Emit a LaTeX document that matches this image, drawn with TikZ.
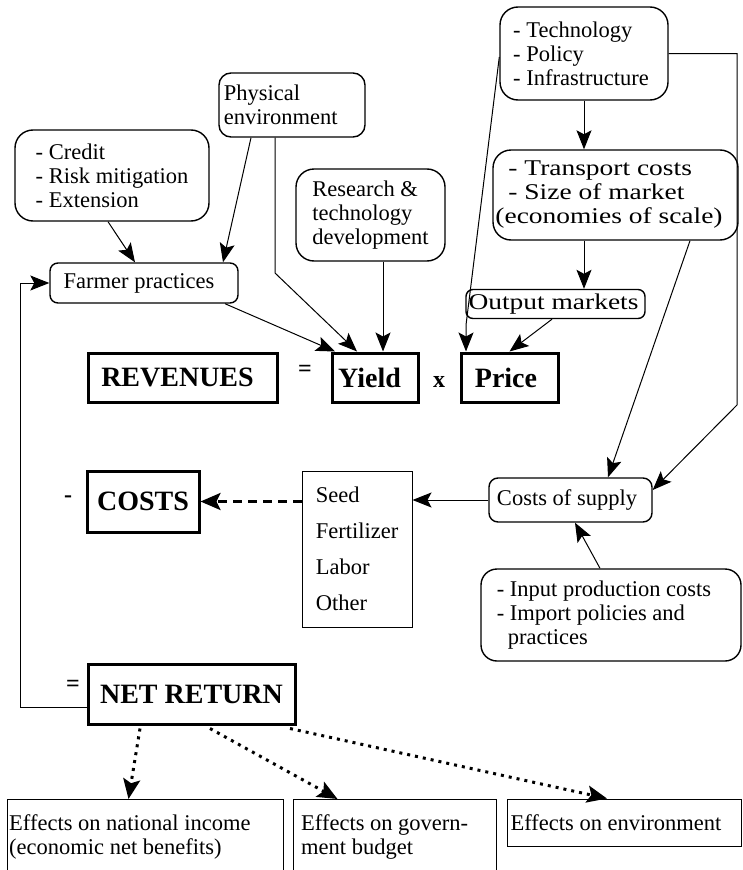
\documentclass[tikz,border=0pt]{standalone}
\usepackage{fontspec}
\setmainfont{Liberation Serif}
\newfontfamily\widefont{Liberation Serif}[FakeStretch=1.22]
\usetikzlibrary{arrows.meta,calc}
\begin{document}
\begin{tikzpicture}[x=1pt,y=-1pt,
  every node/.style={font=\fontsize{22.5}{24}\selectfont, inner sep=0pt},
  rbox/.style={draw, line width=1.4pt, rounded corners=#1, align=left},
  rbox/.default=16pt,
  bbox/.style={draw, line width=3pt, font=\fontsize{28}{30}\selectfont\bfseries},
  pbox/.style={draw, line width=1pt, align=left},
  sym/.style={font=\fontsize{24}{24}\selectfont\bfseries},
  conn/.style={line width=1pt, -{Stealth[length=19pt,width=15pt,inset=4pt]}},
  dasharr/.style={line width=2.8pt, dash pattern=on 9pt off 6pt, -{Stealth[length=20pt,width=17pt,inset=4pt]}},
  dotarr/.style={line width=3pt, dash pattern=on 3pt off 5pt, -{Stealth[length=20pt,width=17pt,inset=4pt]}}
]
\useasboundingbox (0,0) rectangle (742,870);
\clip (0,0) rectangle (742,870);

% top-left boxes
\node[rbox=18pt, minimum width=194pt, minimum height=91pt] (credit) at (112,175.5) {- Credit\\- Risk mitigation\\- Extension};
\node[rbox=12pt, minimum width=146pt, minimum height=64pt] (phys) at (292,105) {Physical\hspace*{60pt}\\environment\hspace*{14pt}};
\node[rbox=18pt, minimum width=149pt, minimum height=92pt] (research) at (370.5,215) {Research \&\\technology\\development};
\node[rbox=8pt, minimum width=188pt, minimum height=40pt] (farmer) at (144,283) {Farmer practices\hspace*{10pt}};

% top-right boxes
\node[rbox=18pt, minimum width=168pt, minimum height=93pt] (tech) at (584,53.5) {- Technology\\- Policy\\- Infrastructure\hspace*{6pt}};
\node[rbox=18pt, minimum width=245pt, minimum height=90pt, font=\widefont\fontsize{22.5}{24}\selectfont] (transport) at (615.5,195) {- Transport costs\\- Size of market\\\hspace*{-13pt}(economies of scale)};
\node[rbox=7pt, minimum width=179pt, minimum height=29pt, font=\widefont\fontsize{22.5}{24}\selectfont] (output) at (555.5,304) {Output markets\hspace*{4pt}};

% revenue row
\node[bbox, minimum width=189pt, minimum height=49pt] (rev) at (182.5,377.5) {REVENUES\hspace*{10pt}};
\node[sym] (eq1) at (305,371) {=};
\node[bbox, minimum width=86pt, minimum height=49pt] (yield) at (375,377.5) {Yield\hspace*{11pt}};
\node[sym] (times) at (439,382) {x};
\node[bbox, minimum width=97pt, minimum height=49pt] (price) at (509.5,377.5) {Price\hspace*{7pt}};

% costs row
\node[sym] (minus) at (68,499) {-};
\node[bbox, minimum width=112pt, minimum height=61pt] (costs) at (143,501.5) {COSTS};
\node[pbox, minimum width=110pt, minimum height=156pt] (seed) at (357,549) {Seed\\[12pt]Fertilizer\\[12pt]Labor\\[12pt]Other};
\node[rbox=9pt, minimum width=163pt, minimum height=44pt] (supply) at (570.5,500) {Costs of supply\hspace*{7pt}};
\node[rbox=16pt, minimum width=260pt, minimum height=92pt] (input) at (611,615) {- Input production costs\hspace*{14pt}\\- Import policies and\\\hspace*{11pt}practices};

% net return
\node[sym] (eq2) at (73,686) {=};
\node[bbox, minimum width=207pt, minimum height=60pt] (net) at (191.5,694) {NET RETURN};

% effects
\node[pbox, minimum width=276pt, minimum height=76pt, anchor=north west] (eff1) at (7,799) {};
\node[anchor=north west, align=left] (eff1t) at (9,814) {Effects on national income\\(economic net benefits)};
\node[pbox, minimum width=203pt, minimum height=76pt, anchor=north west] (eff2) at (293,799) {};
\node[anchor=north west, align=left] (eff2t) at (301,814) {Effects on govern-\\ment budget};
\node[pbox, minimum width=234pt, minimum height=47pt] (eff3) at (624,822.5) {Effects on environment\hspace*{16pt}};

% connectors
\draw[conn] ([xshift=-4pt]credit.south) -- ([xshift=-9pt]farmer.north);
\draw[conn] ([xshift=-41pt]phys.south) -- ([xshift=79pt]farmer.north);
\coordinate (pb) at (275,273);
\draw[conn] ([xshift=-17pt]phys.south) -- (pb) -- ([xshift=-18pt]yield.north);
\draw[conn] ([xshift=81pt]farmer.south) -- ([xshift=-40pt]yield.north);
\draw[conn] ([xshift=8pt]research.south -| yield.north) -- ([xshift=8pt]yield.north);
\coordinate (tb) at (466,325);
\draw[conn] ([yshift=-3.5pt]tech.west) -- (tb) -- (tb |- price.north);
\draw[conn] (tech.south) -- (tech.south |- transport.north);
\draw[conn] (tech.south |- transport.south) -- (tech.south |- output.north);
\draw[conn] ([xshift=-3.5pt]output.south) -- (price.north);
\draw[conn] ([xshift=74.5pt]transport.south) -- ([xshift=37.5pt]supply.north);
\coordinate (ra) at (737,53.5);
\coordinate (rb) at (737,405);
\draw[conn] (tech.east) -- (ra) -- (rb) -- ([yshift=10pt]supply.east);
\draw[conn] (supply.west) -- (supply.west -| seed.east);
\draw[conn] ([xshift=-11pt]input.north) -- ([xshift=4.5pt]supply.south);
\draw[dasharr] (seed.west |- costs.east) -- (costs.east);
\coordinate (fa) at (20,707);
\coordinate (fb) at (20,283);
\draw[conn] (fa -| net.west) -- (fa) -- (fb) -- (farmer.west);
\draw[dotarr] ([xshift=-51.5pt,yshift=-3pt]net.south) -- ([xshift=-17pt]eff1.north);
\draw[dotarr] ([xshift=18.5pt,yshift=-3pt]net.south) -- ([xshift=-57.5pt]eff2.north);
\draw[dotarr] ([xshift=98.5pt,yshift=-3pt]net.south) -- ([xshift=-17pt]eff3.north);
\end{tikzpicture}
\end{document}
